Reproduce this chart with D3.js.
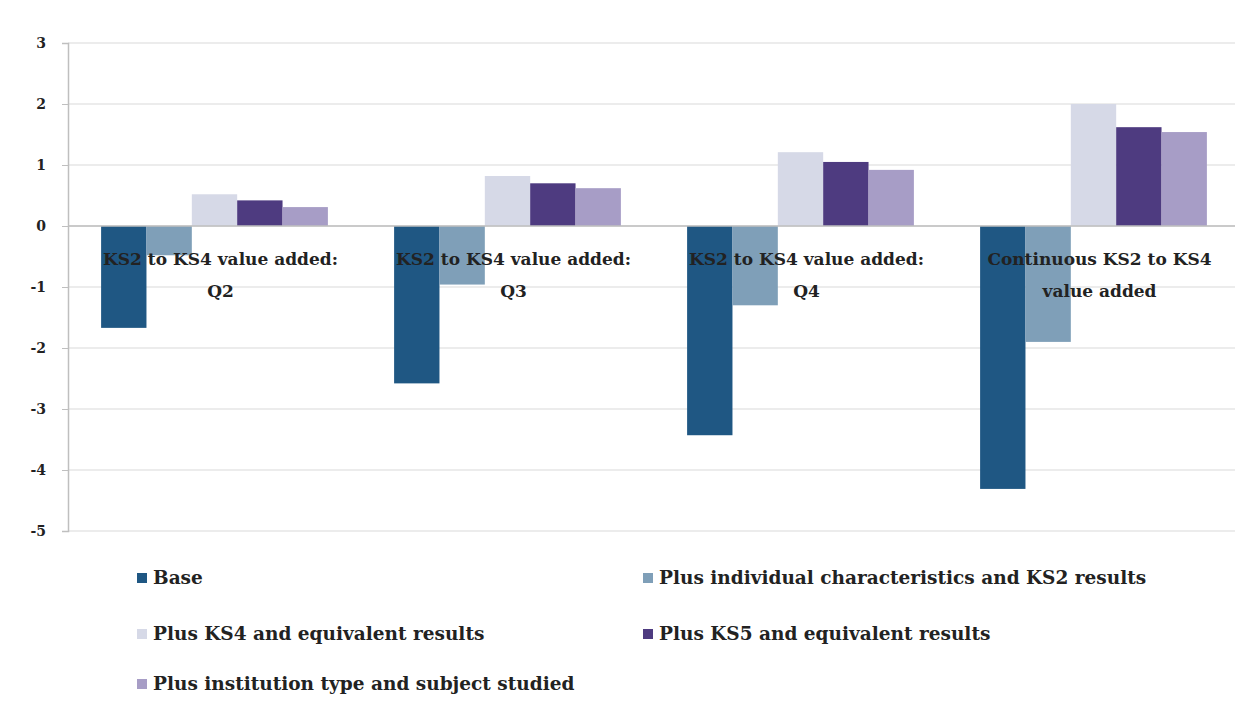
<!DOCTYPE html>
<html>
<head>
<meta charset="utf-8">
<script src="https://cdn.jsdelivr.net/npm/d3@7/dist/d3.min.js"></script>
<style>
  html, body { margin: 0; padding: 0; background: #fff; }
  svg { display: block; }
  text { font-family: "DejaVu Serif", "Liberation Serif", serif; fill: #222; }
</style>
</head>
<body>
<svg id="chart" width="1235" height="709"></svg>
<script>
// ---- data ----
const categories = [
  "KS2 to KS4 value added:\nQ2",
  "KS2 to KS4 value added:\nQ3",
  "KS2 to KS4 value added:\nQ4",
  "Continuous KS2 to KS4\nvalue added"
];
const seriesNames = [
  "Base",
  "Plus individual characteristics and KS2 results",
  "Plus KS4 and equivalent results",
  "Plus KS5 and equivalent results",
  "Plus institution type and subject studied"
];
const baseValues  = [-1.67, -2.58, -3.43, -4.31];
const indivValues = [-0.48, -0.96, -1.30, -1.90];
const ks4Values   = [0.52, 0.82, 1.21, 2.00];
const ks5Values   = [0.42, 0.70, 1.05, 1.62];
const instValues  = [0.31, 0.62, 0.92, 1.54];
const yTicks = [3, 2, 1, 0, -1, -2, -3, -4, -5];
const seriesColors = ["#1f5783", "#7f9fb8", "#d6d9e7", "#4e3b80", "#a79dc6"];

const seriesValues = [baseValues, indivValues, ks4Values, ks5Values, instValues];

// ---- layout ----
const svg = d3.select("#chart");
const plot = { left: 68, right: 1240, top: 43, bottom: 531 };

const y = d3.scaleLinear().domain([-5, 3]).range([plot.bottom, plot.top]);
const x0 = d3.scaleBand().domain(categories).range([plot.left, plot.right]).padding(0);
const x1 = d3.scaleBand().domain(seriesNames).range([0, x0.bandwidth()]).paddingInner(0).paddingOuter(0.73);
const color = d3.scaleOrdinal().domain(seriesNames).range(seriesColors);

// gridlines
svg.append("g")
  .selectAll("line")
  .data(yTicks)
  .join("line")
  .attr("x1", plot.left).attr("x2", plot.right)
  .attr("y1", d => y(d)).attr("y2", d => y(d))
  .attr("stroke", "#d9d9d9").attr("stroke-width", 1.2);

// y axis
const yAxis = d3.axisLeft(y).tickValues(yTicks).tickSize(6).tickPadding(16).tickFormat(d => String(d));
const yg = svg.append("g").attr("transform", `translate(${plot.left},0)`).call(yAxis);
yg.select(".domain").attr("stroke", "#bfbfbf").attr("stroke-width", 1.5);
yg.selectAll(".tick line").attr("stroke", "#bfbfbf");
yg.selectAll(".tick text")
  .style("font-family", "'DejaVu Serif', serif")
  .style("font-size", "14px").style("font-weight", "bold").attr("fill", "#333");

// bars
const rows = [];
categories.forEach((c, i) => {
  seriesNames.forEach((s, j) => rows.push({ cat: c, series: s, value: seriesValues[j][i] }));
});
svg.append("g")
  .selectAll("rect")
  .data(rows)
  .join("rect")
  .attr("x", d => x0(d.cat) + x1(d.series))
  .attr("width", x1.bandwidth())
  .attr("y", d => y(Math.max(0, d.value)))
  .attr("height", d => Math.abs(y(d.value) - y(0)))
  .attr("fill", d => color(d.series));

// zero axis line
svg.append("line")
  .attr("x1", plot.left).attr("x2", plot.right)
  .attr("y1", y(0)).attr("y2", y(0))
  .attr("stroke", "#bfbfbf").attr("stroke-width", 1.5);

// category labels (drawn over bars, like the original)
const catG = svg.append("g");
categories.forEach(c => {
  const lines = c.split("\n");
  const cx = x0(c) + x0.bandwidth() / 2 + 6;
  const t = catG.append("text")
    .attr("x", cx)
    .attr("y", y(0) + 39)
    .attr("text-anchor", "middle")
    .style("font-size", "17px").style("font-weight", "bold").attr("fill", "#222");
  lines.forEach((ln, k) => {
    t.append("tspan").attr("x", cx).attr("dy", k === 0 ? 0 : 32).text(ln);
  });
});

// legend
const legendPos = [
  { x: 137, y: 578 },
  { x: 643, y: 578 },
  { x: 137, y: 634 },
  { x: 643, y: 634 },
  { x: 137, y: 684 }
];
const lg = svg.append("g");
seriesNames.forEach((s, i) => {
  const p = legendPos[i];
  lg.append("rect").attr("x", p.x).attr("y", p.y - 5).attr("width", 10).attr("height", 10).attr("fill", color(s));
  lg.append("text").attr("x", p.x + 16).attr("y", p.y + 6)
    .style("font-size", "18.5px").style("font-weight", "bold").attr("fill", "#222").text(s);
});
</script>
</body>
</html>
